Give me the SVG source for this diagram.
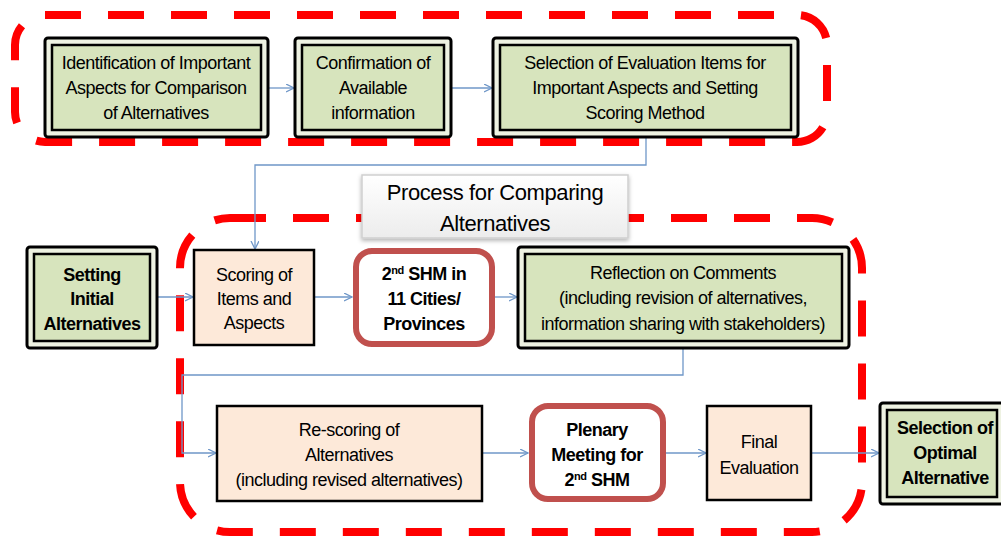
<svg xmlns="http://www.w3.org/2000/svg" width="1001" height="540" viewBox="0 0 1001 540">
<defs>
<marker id="arr" markerWidth="10" markerHeight="10" refX="8" refY="4" orient="auto" markerUnits="userSpaceOnUse">
<path d="M0,0 L8,4 L0,8" fill="none" stroke="#6f97c8" stroke-width="1.3"/>
</marker>
<linearGradient id="tg" x1="0" y1="0" x2="0" y2="1">
<stop offset="0" stop-color="#ffffff"/>
<stop offset="1" stop-color="#ececec"/>
</linearGradient>
<filter id="sh" x="-10%" y="-20%" width="120%" height="150%">
<feDropShadow dx="0" dy="2" stdDeviation="2" flood-color="#000" flood-opacity="0.3"/>
</filter>
</defs>
<style>
.dash{fill:none;stroke:#ff0000;stroke-width:8;stroke-dasharray:36 27}
.conn{fill:none;stroke:#6f97c8;stroke-width:1.3}
.gout{fill:#eef2e2;stroke:#000;stroke-width:3}
.gin{fill:#d7e4bd;stroke:#000;stroke-width:2.5}
.peach{fill:#fde9d9;stroke:#000;stroke-width:2.5}
.redr{fill:#fff;stroke:#c0504d;stroke-width:6}
text{font-family:"Liberation Sans",Arial,sans-serif;font-size:18px;fill:#000;text-anchor:middle;letter-spacing:-0.5px}
.b{font-weight:bold}
.title{font-size:22px;letter-spacing:-0.4px}
</style>
<rect width="1001" height="540" fill="#fff"/>
<g id="groups">
<rect class="dash" x="15" y="15" width="812" height="127" rx="30"/>
<rect class="dash" x="180" y="218" width="682" height="314" rx="50"/>
</g>
<g id="connectors">
<path class="conn" marker-end="url(#arr)" d="M268,88 H294"/>
<path class="conn" marker-end="url(#arr)" d="M451,88 H492"/>
<path class="conn" marker-end="url(#arr)" d="M646,137 V165 H255 V249"/>
<path class="conn" marker-end="url(#arr)" d="M157,297 H193"/>
<path class="conn" marker-end="url(#arr)" d="M314,297 H352"/>
<path class="conn" marker-end="url(#arr)" d="M494,297 H517"/>
<path class="conn" marker-end="url(#arr)" d="M683,348 V375 H182 V453 H216"/>
<path class="conn" marker-end="url(#arr)" d="M482,453 H528"/>
<path class="conn" marker-end="url(#arr)" d="M665,453 H706"/>
<path class="conn" marker-end="url(#arr)" d="M811,453 H879"/>
</g>
<g id="n1">
<rect class="gout" x="45" y="38" width="223" height="99" rx="3"/>
<rect class="gin" x="52" y="45" width="209" height="85"/>
<text x="156" y="69">Identification of Important</text>
<text x="156" y="94">Aspects for Comparison</text>
<text x="156" y="119">of Alternatives</text>
</g>
<g id="n2">
<rect class="gout" x="295" y="38" width="156" height="99" rx="3"/>
<rect class="gin" x="302" y="45" width="142" height="85"/>
<text x="373" y="69">Confirmation of</text>
<text x="373" y="94">Available</text>
<text x="373" y="119">information</text>
</g>
<g id="n3">
<rect class="gout" x="493" y="38" width="305" height="99" rx="3"/>
<rect class="gin" x="500" y="45" width="291" height="85"/>
<text x="645" y="69">Selection of Evaluation Items for</text>
<text x="645" y="94">Important Aspects and Setting</text>
<text x="645" y="119">Scoring Method</text>
</g>
<g id="n4">
<rect class="gout" x="27" y="247" width="130" height="101" rx="3"/>
<rect class="gin" x="34" y="254" width="116" height="87"/>
<text class="b" x="92" y="281">Setting</text>
<text class="b" x="92" y="305">Initial</text>
<text class="b" x="92" y="330">Alternatives</text>
</g>
<g id="n5">
<rect class="peach" x="194" y="250" width="120" height="95"/>
<text x="254" y="281">Scoring of</text>
<text x="254" y="305">Items and</text>
<text x="254" y="329">Aspects</text>
</g>
<g id="n6">
<rect class="redr" x="356" y="251" width="136" height="93" rx="16"/>
<text class="b" x="424" y="280">2<tspan font-size="11" dy="-6">nd</tspan><tspan dy="6"> SHM in</tspan></text>
<text class="b" x="424" y="305">11 Cities/</text>
<text class="b" x="424" y="330">Provinces</text>
</g>
<g id="n7">
<rect class="gout" x="518" y="247" width="331" height="101" rx="3"/>
<rect class="gin" x="525" y="254" width="317" height="87"/>
<text x="683" y="279">Reflection on Comments</text>
<text x="683" y="304">(including revision of alternatives,</text>
<text x="683" y="330">information sharing with stakeholders)</text>
</g>
<g id="n8">
<rect class="peach" x="217" y="406" width="265" height="95"/>
<text x="349" y="436">Re-scoring of</text>
<text x="349" y="461">Alternatives</text>
<text x="349" y="486">(including revised alternatives)</text>
</g>
<g id="n9">
<rect class="redr" x="532" y="406" width="131" height="93" rx="16"/>
<text class="b" x="597" y="436">Plenary</text>
<text class="b" x="597" y="461">Meeting for</text>
<text class="b" x="597" y="486">2<tspan font-size="11" dy="-6">nd</tspan><tspan dy="6"> SHM</tspan></text>
</g>
<g id="n10">
<rect class="peach" x="707" y="406" width="104" height="94"/>
<text x="759" y="448">Final</text>
<text x="759" y="474">Evaluation</text>
</g>
<g id="n11">
<rect class="gout" x="880" y="403" width="124" height="101" rx="3"/>
<rect class="gin" x="887" y="410" width="110" height="87"/>
<text class="b" x="945" y="434">Selection of</text>
<text class="b" x="945" y="459">Optimal</text>
<text class="b" x="945" y="484">Alternative</text>
</g>
<g id="title">
<rect x="362" y="175" width="266" height="63" fill="url(#tg)" stroke="#cfcfcf" stroke-width="1.5" filter="url(#sh)"/>
<text class="title" x="495" y="200">Process for Comparing</text>
<text class="title" x="495" y="231">Alternatives</text>
</g>
</svg>
